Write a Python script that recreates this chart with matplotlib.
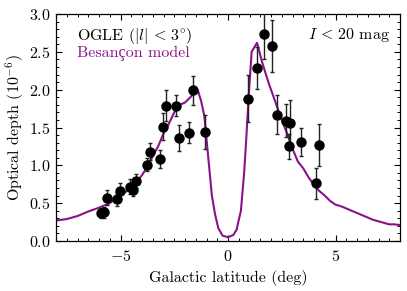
import matplotlib
matplotlib.use("Agg")
import matplotlib.pyplot as plt
from matplotlib.ticker import MultipleLocator

plt.rcParams['font.family'] = ['cmr10', 'Liberation Serif', 'DejaVu Serif']
plt.rcParams['mathtext.fontset'] = 'cm'
plt.rcParams['axes.formatter.use_mathtext'] = True
plt.rcParams['axes.unicode_minus'] = True

# OGLE data
ogle_b = [-5.89, -5.78, -5.62, -5.15, -5.03, -4.54, -4.43, -4.28, -3.78, -3.65,
          -3.18, -3.04, -2.90, -2.42, -2.30, -1.81, -1.64, -1.05,
          0.94, 1.37, 1.69, 2.03, 2.30, 2.72, 2.90, 2.83, 3.40, 4.07, 4.25]
ogle_tau = [0.37, 0.38, 0.57, 0.55, 0.66, 0.72, 0.68, 0.79, 1.01, 1.18,
            1.08, 1.51, 1.79, 1.79, 1.36, 1.43, 1.99, 1.44,
            1.88, 2.29, 2.73, 2.58, 1.67, 1.59, 1.56, 1.25, 1.31, 0.76, 1.27]
ogle_err = [0.07, 0.07, 0.10, 0.085, 0.10, 0.10, 0.09, 0.09, 0.085, 0.115,
            0.12, 0.18, 0.20, 0.14, 0.17, 0.14, 0.195, 0.23,
            0.31, 0.28, 0.33, 0.34, 0.26, 0.22, 0.30, 0.16, 0.19, 0.21, 0.28]

# Besancon model
model_b = [-8.0, -7.5, -7.0, -6.5, -6.0, -5.5, -5.0, -4.5, -4.0, -3.75, -3.5, -3.25,
           -3.0, -2.75, -2.5, -2.25, -2.0, -1.75, -1.5, -1.4, -1.25, -1.1, -1.0,
           -0.9, -0.75, -0.6, -0.45, -0.25, 0.0, 0.25, 0.4, 0.6, 0.75, 0.85, 0.95,
           1.1, 1.35, 1.6, 1.9, 2.25, 2.5, 2.75, 3.0, 3.25, 3.5, 3.75, 4.0, 4.25,
           4.5, 4.75, 5.0, 5.25, 5.5, 5.75, 6.0, 6.25, 6.5, 6.75, 7.0, 7.25, 7.5,
           7.75, 8.0]
model_tau = [0.27, 0.29, 0.33, 0.39, 0.44, 0.50, 0.61, 0.69, 0.87, 0.98, 1.12, 1.25,
             1.42, 1.55, 1.70, 1.80, 1.83, 1.90, 1.98, 1.99, 1.85, 1.65, 1.35,
             1.05, 0.60, 0.35, 0.17, 0.07, 0.05, 0.08, 0.15, 0.40, 0.90, 1.35, 1.86,
             2.50, 2.62, 2.35, 2.08, 1.80, 1.60, 1.42, 1.22, 1.05, 0.96, 0.84, 0.74, 0.66,
             0.60, 0.53, 0.48, 0.46, 0.43, 0.40, 0.37, 0.34, 0.31, 0.28, 0.26, 0.24, 0.22,
             0.22, 0.21]

purple = '#8B118B'
fs = 11.5

fig = plt.figure(figsize=(4.07, 2.91), dpi=100)
ax = fig.add_axes([56/407, 1-241/291, 344/407, 227/291])

ax.plot(model_b, model_tau, color=purple, lw=1.5, zorder=2)
ax.errorbar(ogle_b, ogle_tau, yerr=ogle_err, fmt='o', color='black', ecolor='#222222',
            ms=6.5, elinewidth=1.0, capsize=1.6, capthick=1.0, zorder=3)

ax.set_xlim(-8, 8)
ax.set_ylim(0, 3)
ax.xaxis.set_major_locator(MultipleLocator(5))
ax.xaxis.set_minor_locator(MultipleLocator(0.5))
ax.yaxis.set_major_locator(MultipleLocator(0.5))
ax.yaxis.set_minor_locator(MultipleLocator(0.1))
ax.tick_params(which='both', direction='in', top=True, right=True, labelsize=fs)
ax.tick_params(axis='x', which='major', pad=6)
ax.tick_params(axis='y', which='major', pad=4)
ax.tick_params(which='major', length=4.5, width=0.8)
ax.tick_params(which='minor', length=2.5, width=0.7)
for s in ax.spines.values():
    s.set_linewidth(0.9)

ax.set_xlabel('Galactic latitude (deg)', fontsize=fs, labelpad=4)
ax.set_ylabel(r'Optical depth ($10^{-6}$)', fontsize=fs, labelpad=2)

ax.text(0.061, 0.903, r'OGLE ($|l|\,<\,3^{\circ}$)', transform=ax.transAxes, fontsize=fs,
        color='black', va='center', ha='left')
ax.text(0.061, 0.828, 'Besançon model', transform=ax.transAxes, fontsize=fs,
        color=purple, va='center', ha='left')
ax.text(0.971, 0.907, r'$I\,<\,20$ mag', transform=ax.transAxes, fontsize=fs,
        color='black', va='center', ha='right')

fig.savefig('out.png', dpi=100)
